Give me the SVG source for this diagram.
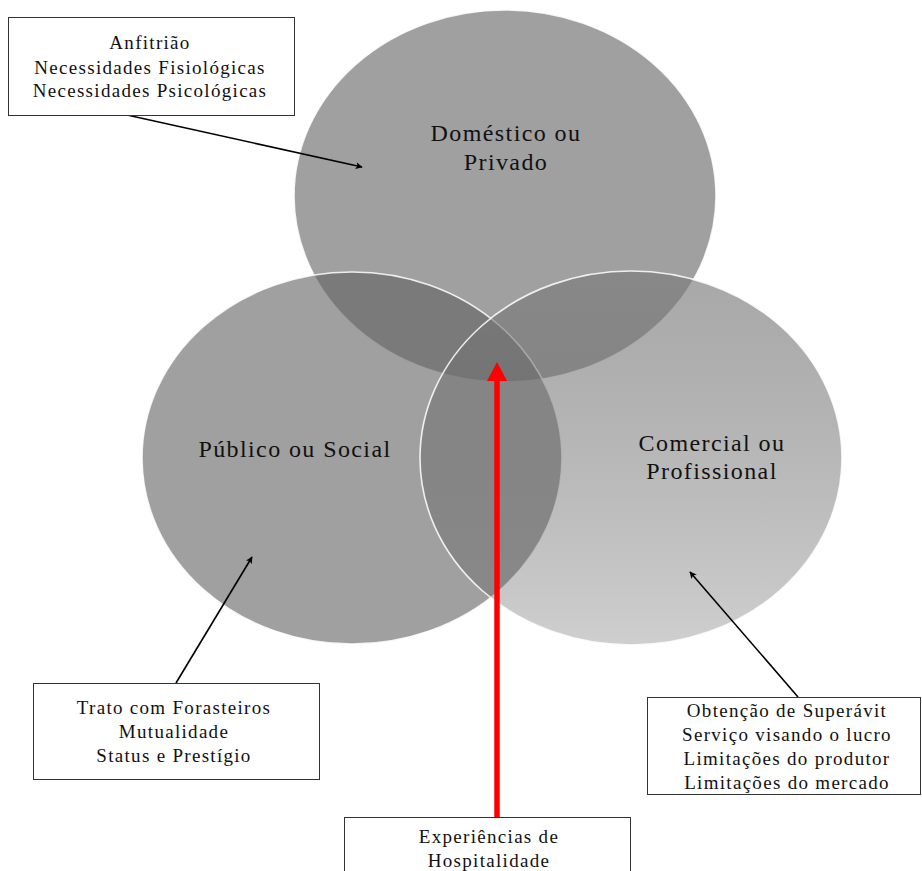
<svg xmlns="http://www.w3.org/2000/svg" width="922" height="871" viewBox="0 0 922 871">
  <style>
    .set { stroke: #ffffff; stroke-opacity: 0.85; stroke-width: 1.6; }
    .setlabel { font-family: "Liberation Serif", "Times New Roman", serif; font-size: 24px; letter-spacing: 1.4px; fill: #111111; text-anchor: middle; }
    .box { fill: #ffffff; stroke: #333333; stroke-width: 1; }
    .boxtext { font-family: "Liberation Serif", "Times New Roman", serif; font-size: 19px; letter-spacing: 1.3px; fill: #111111; text-anchor: middle; }
    .link { stroke: #000000; stroke-width: 1.6; fill: none; marker-end: url(#arrowBlack); }
  </style>
  <defs>
    <marker id="arrowBlack" viewBox="0 0 10 10" refX="9" refY="5" markerWidth="7" markerHeight="7" markerUnits="userSpaceOnUse" orient="auto">
      <path d="M0,0 L10,5 L0,10 L2.5,5 Z" fill="#000000"/>
    </marker>
    <linearGradient id="comercialFill" x1="0" y1="0" x2="0" y2="1">
      <stop offset="0" stop-color="#7b7b7b" stop-opacity="0.66"/>
      <stop offset="1" stop-color="#535353" stop-opacity="0.28"/>
    </linearGradient>
  </defs>

  <rect x="0" y="0" width="922" height="871" fill="#ffffff"/>

  <!-- Venn sets -->
  <g id="domestico">
    <ellipse class="set" cx="505" cy="196" rx="211" ry="186" fill="#616161" fill-opacity="0.6"/>
    <text class="setlabel" x="506" y="141">Doméstico ou</text>
    <text class="setlabel" x="506" y="170">Privado</text>
  </g>
  <g id="publico">
    <ellipse class="set" cx="352" cy="458" rx="210" ry="186" fill="#616161" fill-opacity="0.6"/>
  </g>
  <g id="comercial">
    <ellipse class="set" cx="631" cy="458" rx="211" ry="187" fill="url(#comercialFill)"/>
    <text class="setlabel" x="712" y="451">Comercial ou</text>
    <text class="setlabel" x="712" y="479">Profissional</text>
  </g>
  <g id="publico-label">
    <text class="setlabel" x="295" y="457">Público ou Social</text>
  </g>

  <!-- Connectors -->
  <g id="connectors">
    <line class="link" x1="127" y1="115" x2="362" y2="167"/>
    <line class="link" x1="176" y1="683" x2="252" y2="557"/>
    <line class="link" x1="798" y1="697" x2="690" y2="572"/>
    <line x1="497" y1="817" x2="497" y2="378" stroke="#ff0000" stroke-width="5.5"/>
    <path d="M497,362 L507,381 L487,381 Z" fill="#ff0000"/>
  </g>

  <!-- Annotation boxes -->
  <g id="box-anfitriao">
    <rect class="box" x="8.5" y="17.5" width="286" height="98"/>
    <text class="boxtext" x="150" y="49">Anfitrião</text>
    <text class="boxtext" x="150" y="74">Necessidades Fisiológicas</text>
    <text class="boxtext" x="150" y="97">Necessidades Psicológicas</text>
  </g>
  <g id="box-trato">
    <rect class="box" x="33.5" y="683.5" width="286" height="96"/>
    <text class="boxtext" x="174" y="714">Trato com Forasteiros</text>
    <text class="boxtext" x="174" y="738">Mutualidade</text>
    <text class="boxtext" x="174" y="762">Status e Prestígio</text>
  </g>
  <g id="box-superavit">
    <rect class="box" x="647.5" y="697.5" width="273" height="97"/>
    <text class="boxtext" x="787" y="717">Obtenção de Superávit</text>
    <text class="boxtext" x="787" y="741">Serviço visando o lucro</text>
    <text class="boxtext" x="787" y="765">Limitações do produtor</text>
    <text class="boxtext" x="787" y="789">Limitações do mercado</text>
  </g>
  <g id="box-experiencias">
    <rect class="box" x="344.5" y="817.5" width="286" height="60"/>
    <text class="boxtext" x="489" y="843">Experiências de</text>
    <text class="boxtext" x="489" y="867">Hospitalidade</text>
  </g>
</svg>
